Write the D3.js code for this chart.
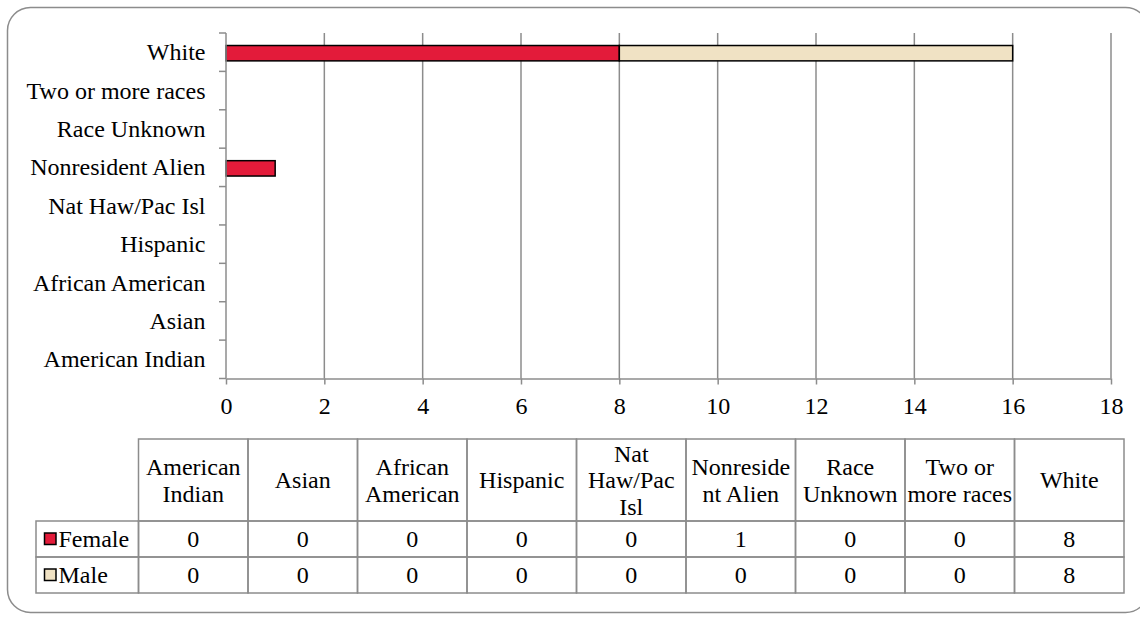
<!DOCTYPE html>
<html>
<head>
<meta charset="utf-8">
<script src="https://cdn.jsdelivr.net/npm/d3@7"></script>
<style>
  body { margin: 0; background: #fff; }
  svg { display: block; }
</style>
</head>
<body>
<svg id="chart"></svg>
<script>
// data, in table order (bottom of chart first)
var categories = ['American Indian', 'Asian', 'African American', 'Hispanic', 'Nat Haw/Pac Isl',
  'Nonresident Alien', 'Race Unknown', 'Two or more races', 'White']
var headerLines = [['American', 'Indian'], ['Asian'], ['African', 'American'], ['Hispanic'],
  ['Nat', 'Haw/Pac', 'Isl'], ['Nonreside', 'nt Alien'], ['Race', 'Unknown'], ['Two or', 'more races'], ['White']]
var seriesNames = ['Female', 'Male']
var female = [0, 0, 0, 0, 0, 1, 0, 0, 8]
var male = [0, 0, 0, 0, 0, 0, 0, 0, 8]
var xTicks = [0, 2, 4, 6, 8, 10, 12, 14, 16, 18]

var colors = { Female: '#E31B3A', Male: '#F0E2C4' }
var gridColor = '#8c8c8c'
var FONT = '"Liberation Serif", "Times New Roman", Times, serif'
var FS = 24

var W = 1140, H = 619
var svg = d3.select('#chart').attr('width', W).attr('height', H)

// outer rounded frame
svg.append('rect').attr('x', 7.5).attr('y', 7.5).attr('width', 1141).attr('height', 605)
  .attr('rx', 23).attr('fill', 'none').attr('stroke', gridColor).attr('stroke-width', 1.5)

var x = d3.scaleLinear().domain([0, 18]).range([226, 1111])
var y = d3.scaleBand().domain(categories.slice().reverse()).range([33, 378.5])

var stacked = d3.stack().keys(seriesNames)(categories.map(function (c, i) {
  return { cat: c, Female: female[i], Male: male[i] }
}))

// vertical grid
svg.append('g').selectAll('line').data(xTicks.slice(1)).join('line')
  .attr('x1', d => x(d)).attr('x2', d => x(d))
  .attr('y1', y.range()[0]).attr('y2', y.range()[1])
  .attr('stroke', gridColor).attr('stroke-width', 1.5)

// bars
var barH = y.bandwidth() * 0.4
stacked.forEach(function (s) {
  svg.append('g').selectAll('rect').data(s.filter(d => d[1] - d[0] > 0)).join('rect')
    .attr('x', d => x(d[0]))
    .attr('width', d => x(d[1]) - x(d[0]))
    .attr('y', d => y(d.data.cat) + (y.bandwidth() - barH) / 2 + 1)
    .attr('height', barH)
    .attr('fill', colors[s.key])
    .attr('stroke', '#000').attr('stroke-width', 1.5)
})

// y axis: line + ticks at band boundaries
var yAxis = svg.append('g')
yAxis.append('line').attr('x1', x(0)).attr('x2', x(0))
  .attr('y1', y.range()[0]).attr('y2', y.range()[1])
  .attr('stroke', gridColor).attr('stroke-width', 1.5)
yAxis.selectAll('line.tk').data(d3.range(categories.length + 1)).join('line').attr('class', 'tk')
  .attr('x1', x(0) - 7).attr('x2', x(0))
  .attr('y1', i => y.range()[0] + i * y.step()).attr('y2', i => y.range()[0] + i * y.step())
  .attr('stroke', gridColor).attr('stroke-width', 1.5)
yAxis.selectAll('text').data(categories).join('text')
  .attr('x', 205.5).attr('y', d => y(d) + y.bandwidth() / 2 + 8)
  .attr('text-anchor', 'end').attr('font-size', FS).attr('fill', '#000')
  .style('font-family', FONT)
  .text(d => d)

// x axis
var xAxis = svg.append('g').attr('transform', 'translate(0,' + y.range()[1] + ')')
  .call(d3.axisBottom(x).tickValues(xTicks).tickSize(6).tickSizeOuter(0).tickPadding(12.5))
xAxis.select('.domain').attr('stroke', gridColor).attr('stroke-width', 1.5)
xAxis.selectAll('.tick line').attr('stroke', gridColor).attr('stroke-width', 1.5)
xAxis.selectAll('.tick text').attr('font-size', FS).attr('fill', '#000').style('font-family', FONT)

// data table
var tLeft = 138.5, tRight = 1124, legLeft = 36
var rowY = [439, 521, 557, 593]
var colX = d3.scaleBand().domain(categories).range([tLeft, tRight])
var tbl = svg.append('g').attr('font-size', FS).attr('fill', '#000')
var bc = gridColor

function txt (xp, yp, t, anchor) {
  return tbl.append('text').attr('x', xp).attr('y', yp)
    .attr('text-anchor', anchor || 'middle').style('font-family', FONT).text(t)
}

// header cells
categories.forEach(function (c, i) {
  var cx = colX(c)
  tbl.append('rect').attr('x', cx).attr('y', rowY[0]).attr('width', colX.bandwidth())
    .attr('height', rowY[1] - rowY[0]).attr('fill', 'none').attr('stroke', bc).attr('stroke-width', 1.5)
  var lines = headerLines[i]
  var lh = 26.8
  var mid = (rowY[0] + rowY[1]) / 2
  lines.forEach(function (t, j) {
    txt(cx + colX.bandwidth() / 2, mid + (j - (lines.length - 1) / 2) * lh + 8.3, t)
  })
})

// value rows
var rows = [female, male]
seriesNames.forEach(function (name, r) {
  var top = rowY[r + 1], bot = rowY[r + 2]
  tbl.append('rect').attr('x', legLeft).attr('y', top).attr('width', tLeft - legLeft)
    .attr('height', bot - top).attr('fill', 'none').attr('stroke', bc).attr('stroke-width', 1.5)
  tbl.append('rect').attr('x', 44.5).attr('y', (top + bot) / 2 - 6).attr('width', 11.5).attr('height', 11.5)
    .attr('fill', colors[name]).attr('stroke', '#000').attr('stroke-width', 1.5)
  txt(58.5, (top + bot) / 2 + 7.5, name, 'start')
  categories.forEach(function (c, i) {
    tbl.append('rect').attr('x', colX(c)).attr('y', top).attr('width', colX.bandwidth())
      .attr('height', bot - top).attr('fill', 'none').attr('stroke', bc).attr('stroke-width', 1.5)
    txt(colX(c) + colX.bandwidth() / 2, (top + bot) / 2 + 7.5, rows[r][i])
  })
})
</script>
</body>
</html>
